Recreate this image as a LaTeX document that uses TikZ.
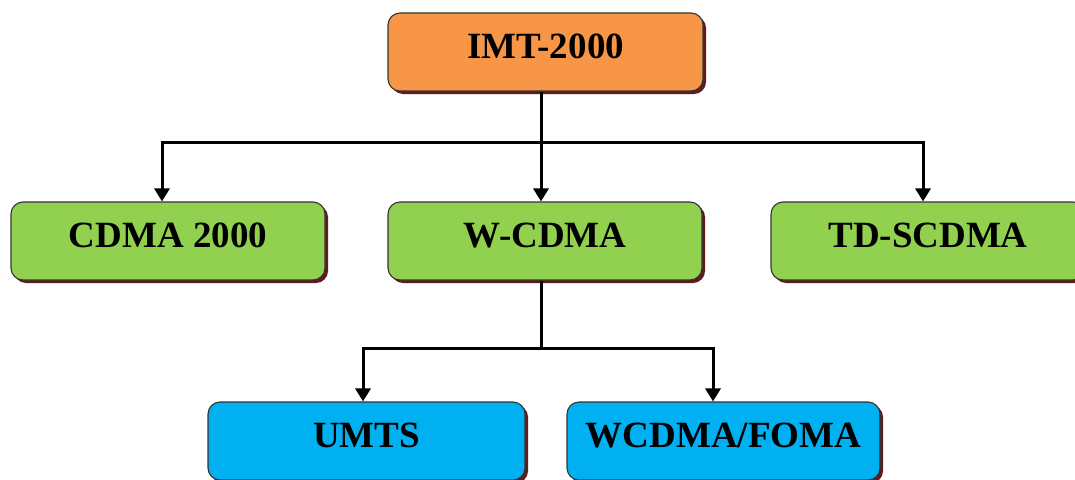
\documentclass[tikz,border=0pt]{standalone}
\usepackage{fontspec}
\setmainfont{Liberation Serif}
\usetikzlibrary{shadows,arrows.meta}
\definecolor{boxorange}{HTML}{F79646}
\definecolor{boxgreen}{HTML}{92D050}
\definecolor{boxblue}{HTML}{00B0F0}
\definecolor{shadowred}{HTML}{5E1C1C}
\definecolor{edgegray}{HTML}{333333}
\tikzset{
  box/.style={draw=edgegray, line width=1.1pt, rounded corners=12pt,
    minimum height=78pt, inner sep=0pt,
    text height=24pt, text depth=12pt,
    font=\fontsize{37}{40}\selectfont\bfseries,
    drop shadow={shadow xshift=3pt, shadow yshift=-3pt, fill=shadowred, opacity=1}},
  wire/.style={line width=3pt, black},
  arrow/.style={wire, -{Triangle[width=15pt,length=13pt]}}
}
\begin{document}
\begin{tikzpicture}[x=1pt,y=-1pt]
\useasboundingbox (0,0) rectangle (1075,479);
\fill[white] (0,0) rectangle (1075,479);

% top level
\node[box, fill=boxorange, minimum width=315pt] (imt) at (545.5,52) {IMT-2000};

% second level
\node[box, fill=boxgreen, minimum width=314pt] (cdma) at (168,241) {CDMA 2000};
\node[box, fill=boxgreen, minimum width=314pt] (wcdma) at (545,241) {W-CDMA};
\node[box, fill=boxgreen, minimum width=314pt] (td) at (928,241) {TD-SCDMA};

% third level
\node[box, fill=boxblue, minimum width=317pt] (umts) at (366.5,441) {UMTS};
\node[box, fill=boxblue, minimum width=313pt] (foma) at (723.5,441) {WCDMA/FOMA};

% branching from IMT-2000
\coordinate (bar1) at (541,142);
\draw[wire] (imt.south -| bar1) -- (bar1);
\draw[arrow] (bar1) -| ([xshift=-6pt]cdma.north);
\draw[arrow] (bar1) -- (wcdma.north -| bar1);
\draw[arrow] (bar1) -| ([xshift=-5pt]td.north);

% branching from W-CDMA
\coordinate (bar2) at (541,348);
\draw[wire] (wcdma.south -| bar2) -- (bar2);
\draw[arrow] (bar2) -| ([xshift=-3.5pt]umts.north);
\draw[arrow] (bar2) -| ([xshift=-10.5pt]foma.north);
\end{tikzpicture}
\end{document}
